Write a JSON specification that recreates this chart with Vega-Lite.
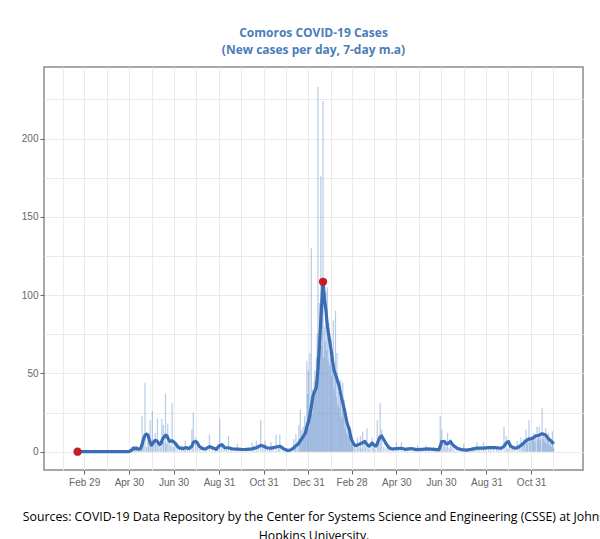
{
  "$schema": "https://vega.github.io/schema/vega-lite/v6.json",
  "width": 539,
  "height": 403,
  "autosize": {"type": "none"},
  "padding": {"left": 44, "top": 67, "right": 17, "bottom": 69},
  "background": "white",
  "title": {
    "text": "Comoros COVID-19 Cases",
    "subtitle": "(New cases per day, 7-day m.a)",
    "anchor": "middle",
    "font": "Open Sans",
    "fontSize": 12,
    "fontWeight": "bold",
    "color": "#4a7eb8",
    "subtitleFont": "Open Sans",
    "subtitleFontSize": 12,
    "subtitleFontWeight": "bold",
    "subtitleColor": "#4a7eb8",
    "subtitlePadding": 5,
    "offset": 10
  },
  "datasets": {
    "bars": [
      {"date":"2020-04-30","cases":1},{"date":"2020-05-02","cases":2},{"date":"2020-05-04","cases":3},{"date":"2020-05-05","cases":2},{"date":"2020-05-07","cases":4},{"date":"2020-05-08","cases":3},{"date":"2020-05-10","cases":2},{"date":"2020-05-11","cases":1},{"date":"2020-05-13","cases":2},{"date":"2020-05-14","cases":3},{"date":"2020-05-16","cases":1},{"date":"2020-05-17","cases":6},{"date":"2020-05-18","cases":23},{"date":"2020-05-20","cases":9},{"date":"2020-05-22","cases":44},{"date":"2020-05-24","cases":3},{"date":"2020-05-26","cases":8},{"date":"2020-05-27","cases":12},{"date":"2020-05-29","cases":20},{"date":"2020-05-30","cases":4},
      {"date":"2020-06-01","cases":26},{"date":"2020-06-03","cases":6},{"date":"2020-06-05","cases":12},{"date":"2020-06-06","cases":5},{"date":"2020-06-08","cases":21},{"date":"2020-06-10","cases":4},{"date":"2020-06-12","cases":3},{"date":"2020-06-14","cases":21},{"date":"2020-06-16","cases":17},{"date":"2020-06-17","cases":6},{"date":"2020-06-19","cases":37},{"date":"2020-06-20","cases":5},{"date":"2020-06-22","cases":18},{"date":"2020-06-24","cases":8},{"date":"2020-06-26","cases":4},{"date":"2020-06-28","cases":31},{"date":"2020-06-30","cases":3},
      {"date":"2020-07-02","cases":5},{"date":"2020-07-05","cases":3},{"date":"2020-07-08","cases":2},{"date":"2020-07-11","cases":4},{"date":"2020-07-14","cases":3},{"date":"2020-07-16","cases":7},{"date":"2020-07-19","cases":2},{"date":"2020-07-22","cases":4},{"date":"2020-07-25","cases":14},{"date":"2020-07-27","cases":25},{"date":"2020-07-30","cases":9},
      {"date":"2020-08-02","cases":3},{"date":"2020-08-05","cases":2},{"date":"2020-08-09","cases":4},{"date":"2020-08-13","cases":2},{"date":"2020-08-18","cases":11},{"date":"2020-08-22","cases":3},{"date":"2020-08-26","cases":2},{"date":"2020-08-29","cases":3},
      {"date":"2020-09-01","cases":21},{"date":"2020-09-04","cases":4},{"date":"2020-09-07","cases":3},{"date":"2020-09-10","cases":2},{"date":"2020-09-13","cases":10},{"date":"2020-09-17","cases":3},{"date":"2020-09-21","cases":2},{"date":"2020-09-25","cases":5},{"date":"2020-09-29","cases":3},
      {"date":"2020-10-03","cases":2},{"date":"2020-10-07","cases":3},{"date":"2020-10-11","cases":2},{"date":"2020-10-15","cases":6},{"date":"2020-10-18","cases":4},{"date":"2020-10-21","cases":7},{"date":"2020-10-24","cases":3},{"date":"2020-10-27","cases":20},{"date":"2020-10-30","cases":4},
      {"date":"2020-11-02","cases":7},{"date":"2020-11-05","cases":3},{"date":"2020-11-08","cases":2},{"date":"2020-11-10","cases":6},{"date":"2020-11-13","cases":3},{"date":"2020-11-17","cases":11},{"date":"2020-11-20","cases":4},{"date":"2020-11-22","cases":11},{"date":"2020-11-26","cases":2},{"date":"2020-11-29","cases":1},
      {"date":"2020-12-02","cases":2},{"date":"2020-12-05","cases":1},{"date":"2020-12-08","cases":3},{"date":"2020-12-11","cases":8},{"date":"2020-12-13","cases":4},{"date":"2020-12-14","cases":11},{"date":"2020-12-16","cases":6},{"date":"2020-12-18","cases":17},{"date":"2020-12-19","cases":5},{"date":"2020-12-20","cases":27},{"date":"2020-12-21","cases":9},{"date":"2020-12-22","cases":14},{"date":"2020-12-23","cases":8},{"date":"2020-12-24","cases":16},{"date":"2020-12-25","cases":10},{"date":"2020-12-26","cases":23},{"date":"2020-12-27","cases":12},{"date":"2020-12-28","cases":19},{"date":"2020-12-29","cases":58},{"date":"2020-12-30","cases":37},{"date":"2020-12-31","cases":52},
      {"date":"2021-01-01","cases":22},{"date":"2021-01-02","cases":63},{"date":"2021-01-03","cases":28},{"date":"2021-01-04","cases":130},{"date":"2021-01-05","cases":24},{"date":"2021-01-06","cases":40},{"date":"2021-01-07","cases":33},{"date":"2021-01-08","cases":45},{"date":"2021-01-09","cases":52},{"date":"2021-01-10","cases":38},{"date":"2021-01-11","cases":60},{"date":"2021-01-12","cases":75},{"date":"2021-01-13","cases":233},{"date":"2021-01-14","cases":70},{"date":"2021-01-15","cases":95},{"date":"2021-01-16","cases":85},{"date":"2021-01-17","cases":176},{"date":"2021-01-18","cases":68},{"date":"2021-01-19","cases":100},{"date":"2021-01-20","cases":224},{"date":"2021-01-21","cases":60},{"date":"2021-01-22","cases":80},{"date":"2021-01-23","cases":70},{"date":"2021-01-24","cases":102},{"date":"2021-01-25","cases":65},{"date":"2021-01-26","cases":105},{"date":"2021-01-27","cases":58},{"date":"2021-01-28","cases":82},{"date":"2021-01-29","cases":55},{"date":"2021-01-30","cases":60},{"date":"2021-01-31","cases":71},
      {"date":"2021-02-01","cases":48},{"date":"2021-02-02","cases":55},{"date":"2021-02-03","cases":84},{"date":"2021-02-04","cases":40},{"date":"2021-02-05","cases":50},{"date":"2021-02-06","cases":90},{"date":"2021-02-07","cases":35},{"date":"2021-02-08","cases":63},{"date":"2021-02-09","cases":30},{"date":"2021-02-10","cases":38},{"date":"2021-02-11","cases":28},{"date":"2021-02-12","cases":35},{"date":"2021-02-13","cases":46},{"date":"2021-02-14","cases":22},{"date":"2021-02-15","cases":30},{"date":"2021-02-16","cases":44},{"date":"2021-02-17","cases":25},{"date":"2021-02-18","cases":33},{"date":"2021-02-19","cases":15},{"date":"2021-02-20","cases":27},{"date":"2021-02-21","cases":12},{"date":"2021-02-22","cases":20},{"date":"2021-02-23","cases":10},{"date":"2021-02-24","cases":14},{"date":"2021-02-25","cases":8},{"date":"2021-02-26","cases":16},{"date":"2021-02-27","cases":5},{"date":"2021-02-28","cases":9},
      {"date":"2021-03-01","cases":10},{"date":"2021-03-02","cases":3},{"date":"2021-03-04","cases":4},{"date":"2021-03-06","cases":2},{"date":"2021-03-08","cases":9},{"date":"2021-03-10","cases":3},{"date":"2021-03-12","cases":10},{"date":"2021-03-13","cases":2},{"date":"2021-03-15","cases":13},{"date":"2021-03-17","cases":5},{"date":"2021-03-19","cases":3},{"date":"2021-03-21","cases":15},{"date":"2021-03-23","cases":2},{"date":"2021-03-25","cases":4},{"date":"2021-03-28","cases":9},{"date":"2021-03-30","cases":3},
      {"date":"2021-04-01","cases":2},{"date":"2021-04-04","cases":20},{"date":"2021-04-06","cases":5},{"date":"2021-04-08","cases":31},{"date":"2021-04-10","cases":14},{"date":"2021-04-13","cases":3},{"date":"2021-04-16","cases":2},{"date":"2021-04-19","cases":3},{"date":"2021-04-22","cases":1},{"date":"2021-04-26","cases":2},{"date":"2021-04-30","cases":6},
      {"date":"2021-05-03","cases":2},{"date":"2021-05-07","cases":6},{"date":"2021-05-11","cases":1},{"date":"2021-05-15","cases":3},{"date":"2021-05-19","cases":2},{"date":"2021-05-23","cases":1},{"date":"2021-05-26","cases":2},{"date":"2021-05-29","cases":4},
      {"date":"2021-06-02","cases":1},{"date":"2021-06-05","cases":2},{"date":"2021-06-09","cases":4},{"date":"2021-06-13","cases":2},{"date":"2021-06-17","cases":1},{"date":"2021-06-20","cases":3},{"date":"2021-06-24","cases":2},{"date":"2021-06-29","cases":23},
      {"date":"2021-07-01","cases":14},{"date":"2021-07-03","cases":5},{"date":"2021-07-05","cases":8},{"date":"2021-07-07","cases":3},{"date":"2021-07-09","cases":12},{"date":"2021-07-11","cases":2},{"date":"2021-07-13","cases":8},{"date":"2021-07-15","cases":3},{"date":"2021-07-18","cases":2},{"date":"2021-07-22","cases":3},{"date":"2021-07-26","cases":1},{"date":"2021-07-31","cases":5},
      {"date":"2021-08-04","cases":1},{"date":"2021-08-08","cases":2},{"date":"2021-08-12","cases":3},{"date":"2021-08-15","cases":2},{"date":"2021-08-18","cases":6},{"date":"2021-08-21","cases":2},{"date":"2021-08-24","cases":3},{"date":"2021-08-27","cases":6},{"date":"2021-08-30","cases":2},
      {"date":"2021-09-03","cases":3},{"date":"2021-09-06","cases":2},{"date":"2021-09-10","cases":4},{"date":"2021-09-14","cases":3},{"date":"2021-09-17","cases":2},{"date":"2021-09-20","cases":3},{"date":"2021-09-24","cases":16},{"date":"2021-09-27","cases":10},{"date":"2021-09-29","cases":2},
      {"date":"2021-10-02","cases":3},{"date":"2021-10-05","cases":2},{"date":"2021-10-08","cases":4},{"date":"2021-10-12","cases":7},{"date":"2021-10-15","cases":4},{"date":"2021-10-17","cases":9},{"date":"2021-10-19","cases":5},{"date":"2021-10-21","cases":8},{"date":"2021-10-22","cases":6},{"date":"2021-10-24","cases":14},{"date":"2021-10-25","cases":5},{"date":"2021-10-26","cases":9},{"date":"2021-10-28","cases":20},{"date":"2021-10-29","cases":6},{"date":"2021-10-30","cases":8},
      {"date":"2021-11-01","cases":10},{"date":"2021-11-02","cases":7},{"date":"2021-11-03","cases":9},{"date":"2021-11-04","cases":12},{"date":"2021-11-05","cases":6},{"date":"2021-11-06","cases":11},{"date":"2021-11-08","cases":16},{"date":"2021-11-09","cases":8},{"date":"2021-11-10","cases":10},{"date":"2021-11-11","cases":16},{"date":"2021-11-12","cases":7},{"date":"2021-11-13","cases":9},{"date":"2021-11-15","cases":28},{"date":"2021-11-16","cases":8},{"date":"2021-11-17","cases":10},{"date":"2021-11-18","cases":6},{"date":"2021-11-19","cases":9},{"date":"2021-11-20","cases":15},{"date":"2021-11-21","cases":5},{"date":"2021-11-22","cases":8},{"date":"2021-11-23","cases":7},{"date":"2021-11-24","cases":12},{"date":"2021-11-25","cases":4},{"date":"2021-11-26","cases":6},{"date":"2021-11-27","cases":5},{"date":"2021-11-28","cases":3},{"date":"2021-11-29","cases":13},{"date":"2021-11-30","cases":4},{"date":"2021-12-01","cases":2}
    ],
    "ma": [
      {"date":"2020-02-20","ma":0},{"date":"2020-03-20","ma":0},{"date":"2020-04-20","ma":0},{"date":"2020-04-29","ma":0},{"date":"2020-05-01","ma":0.3},{"date":"2020-05-04","ma":1},{"date":"2020-05-06","ma":2.3},{"date":"2020-05-08","ma":1.8},{"date":"2020-05-10","ma":2.4},{"date":"2020-05-13","ma":1.6},{"date":"2020-05-16","ma":2},{"date":"2020-05-18","ma":4.5},{"date":"2020-05-20","ma":8},{"date":"2020-05-22","ma":10.5},{"date":"2020-05-24","ma":11.2},{"date":"2020-05-26","ma":10.5},{"date":"2020-05-28","ma":7.5},{"date":"2020-05-30","ma":5},{"date":"2020-05-31","ma":4.2},
      {"date":"2020-06-02","ma":5.5},{"date":"2020-06-04","ma":7},{"date":"2020-06-06","ma":7.2},{"date":"2020-06-08","ma":6.5},{"date":"2020-06-11","ma":4.5},{"date":"2020-06-13","ma":5.5},{"date":"2020-06-15","ma":8},{"date":"2020-06-17","ma":9.5},{"date":"2020-06-19","ma":10.5},{"date":"2020-06-21","ma":10},{"date":"2020-06-23","ma":8},{"date":"2020-06-25","ma":6.5},{"date":"2020-06-28","ma":7},
      {"date":"2020-07-01","ma":6},{"date":"2020-07-03","ma":5},{"date":"2020-07-06","ma":3},{"date":"2020-07-09","ma":2.3},{"date":"2020-07-13","ma":2},{"date":"2020-07-17","ma":2.6},{"date":"2020-07-21","ma":2},{"date":"2020-07-25","ma":3.5},{"date":"2020-07-27","ma":6},{"date":"2020-07-30","ma":6.5},{"date":"2020-08-01","ma":6},{"date":"2020-08-04","ma":3.5},{"date":"2020-08-08","ma":2},{"date":"2020-08-13","ma":1.8},{"date":"2020-08-18","ma":3.3},{"date":"2020-08-22","ma":2.5},{"date":"2020-08-27","ma":1.5},
      {"date":"2020-09-01","ma":4},{"date":"2020-09-04","ma":4.5},{"date":"2020-09-08","ma":2.5},{"date":"2020-09-13","ma":2.5},{"date":"2020-09-18","ma":1.8},{"date":"2020-09-25","ma":1.6},{"date":"2020-10-01","ma":1.4},{"date":"2020-10-08","ma":1.5},{"date":"2020-10-15","ma":1.8},{"date":"2020-10-21","ma":2.5},{"date":"2020-10-27","ma":4},{"date":"2020-10-31","ma":3.5},{"date":"2020-11-04","ma":2.5},{"date":"2020-11-10","ma":2.3},{"date":"2020-11-17","ma":3},{"date":"2020-11-22","ma":3.5},{"date":"2020-11-27","ma":2},
      {"date":"2020-12-02","ma":0.8},{"date":"2020-12-06","ma":1},{"date":"2020-12-10","ma":2},{"date":"2020-12-13","ma":3.4},{"date":"2020-12-16","ma":4.5},{"date":"2020-12-18","ma":5.5},{"date":"2020-12-20","ma":7},{"date":"2020-12-23","ma":9},{"date":"2020-12-25","ma":10.5},{"date":"2020-12-27","ma":12},{"date":"2020-12-29","ma":16},{"date":"2020-12-31","ma":19},
      {"date":"2021-01-02","ma":23},{"date":"2021-01-04","ma":29},{"date":"2021-01-06","ma":35},{"date":"2021-01-08","ma":38},{"date":"2021-01-10","ma":40},{"date":"2021-01-11","ma":41.5},{"date":"2021-01-13","ma":52},{"date":"2021-01-15","ma":67},{"date":"2021-01-17","ma":84},{"date":"2021-01-19","ma":101},{"date":"2021-01-20","ma":108.5},{"date":"2021-01-21","ma":104},{"date":"2021-01-22","ma":97},{"date":"2021-01-24","ma":90},{"date":"2021-01-26","ma":80},{"date":"2021-01-29","ma":71},{"date":"2021-01-31","ma":65},
      {"date":"2021-02-02","ma":58},{"date":"2021-02-04","ma":52},{"date":"2021-02-07","ma":48},{"date":"2021-02-09","ma":45},{"date":"2021-02-11","ma":42},{"date":"2021-02-13","ma":37},{"date":"2021-02-16","ma":31},{"date":"2021-02-18","ma":27},{"date":"2021-02-20","ma":22.5},{"date":"2021-02-22","ma":18},{"date":"2021-02-25","ma":14},{"date":"2021-02-27","ma":9},
      {"date":"2021-03-01","ma":6.5},{"date":"2021-03-04","ma":4.2},{"date":"2021-03-06","ma":3.8},{"date":"2021-03-09","ma":4.5},{"date":"2021-03-12","ma":5},{"date":"2021-03-15","ma":5.8},{"date":"2021-03-18","ma":6.5},{"date":"2021-03-21","ma":4.5},{"date":"2021-03-24","ma":3.5},{"date":"2021-03-28","ma":5.5},{"date":"2021-03-31","ma":4},
      {"date":"2021-04-02","ma":3.5},{"date":"2021-04-04","ma":5},{"date":"2021-04-06","ma":7.6},{"date":"2021-04-08","ma":9.5},{"date":"2021-04-10","ma":10},{"date":"2021-04-13","ma":7.6},{"date":"2021-04-15","ma":6},{"date":"2021-04-17","ma":4.5},{"date":"2021-04-20","ma":2.5},{"date":"2021-04-24","ma":1.7},{"date":"2021-04-30","ma":2},
      {"date":"2021-05-07","ma":2.2},{"date":"2021-05-12","ma":1.5},{"date":"2021-05-20","ma":2},{"date":"2021-05-28","ma":1.3},{"date":"2021-06-04","ma":1.5},{"date":"2021-06-12","ma":1.8},{"date":"2021-06-20","ma":1.5},{"date":"2021-06-27","ma":1.2},{"date":"2021-06-29","ma":3.5},
      {"date":"2021-07-01","ma":6.5},{"date":"2021-07-05","ma":6.5},{"date":"2021-07-07","ma":5},{"date":"2021-07-09","ma":5},{"date":"2021-07-13","ma":6.5},{"date":"2021-07-15","ma":5},{"date":"2021-07-18","ma":3.5},{"date":"2021-07-23","ma":2},{"date":"2021-07-28","ma":1.3},
      {"date":"2021-08-04","ma":1},{"date":"2021-08-10","ma":1.5},{"date":"2021-08-18","ma":2.3},{"date":"2021-08-27","ma":2.3},{"date":"2021-09-03","ma":2.6},{"date":"2021-09-12","ma":2.6},{"date":"2021-09-20","ma":2.2},{"date":"2021-09-24","ma":3.5},{"date":"2021-09-27","ma":5.5},{"date":"2021-09-30","ma":6.5},
      {"date":"2021-10-03","ma":3.5},{"date":"2021-10-07","ma":2.5},{"date":"2021-10-10","ma":2.2},{"date":"2021-10-14","ma":3},{"date":"2021-10-17","ma":4},{"date":"2021-10-21","ma":5.5},{"date":"2021-10-24","ma":7},{"date":"2021-10-28","ma":8},
      {"date":"2021-11-02","ma":8.5},{"date":"2021-11-06","ma":10},{"date":"2021-11-11","ma":10.5},{"date":"2021-11-15","ma":11.5},{"date":"2021-11-18","ma":11},{"date":"2021-11-20","ma":10.5},{"date":"2021-11-24","ma":8},{"date":"2021-11-27","ma":7},{"date":"2021-11-29","ma":6},{"date":"2021-12-01","ma":5}
    ],
    "pts": [
      {"date":"2020-02-20","ma":0},
      {"date":"2021-01-20","ma":108.5}
    ]
  },
  "encoding": {
    "x": {
      "field": "date",
      "type": "temporal",
      "scale": {
        "type": "utc",
        "domain": [
          {"year": 2020, "month": 1, "date": 12, "utc": true},
          {"year": 2022, "month": 1, "date": 3, "utc": true}
        ]
      },
      "axis": {
        "title": ["Sources: COVID-19 Data Repository by the Center for Systems Science and Engineering (CSSE) at Johns", "Hopkins University."],
        "titleFont": "Open Sans",
        "titleFontSize": 12.3,
        "titleFontWeight": "normal",
        "titleColor": "#000000",
        "titlePadding": 23,
        "titleLineHeight": 19,
        "values": [
          {"year":2020,"month":1,"date":31,"utc":true},
          {"year":2020,"month":2,"date":29,"utc":true},
          {"year":2020,"month":3,"date":31,"utc":true},
          {"year":2020,"month":4,"date":30,"utc":true},
          {"year":2020,"month":5,"date":31,"utc":true},
          {"year":2020,"month":6,"date":30,"utc":true},
          {"year":2020,"month":7,"date":31,"utc":true},
          {"year":2020,"month":8,"date":31,"utc":true},
          {"year":2020,"month":9,"date":30,"utc":true},
          {"year":2020,"month":10,"date":31,"utc":true},
          {"year":2020,"month":11,"date":30,"utc":true},
          {"year":2020,"month":12,"date":31,"utc":true},
          {"year":2021,"month":1,"date":31,"utc":true},
          {"year":2021,"month":2,"date":28,"utc":true},
          {"year":2021,"month":3,"date":31,"utc":true},
          {"year":2021,"month":4,"date":30,"utc":true},
          {"year":2021,"month":5,"date":31,"utc":true},
          {"year":2021,"month":6,"date":30,"utc":true},
          {"year":2021,"month":7,"date":31,"utc":true},
          {"year":2021,"month":8,"date":31,"utc":true},
          {"year":2021,"month":9,"date":30,"utc":true},
          {"year":2021,"month":10,"date":31,"utc":true},
          {"year":2021,"month":11,"date":30,"utc":true}
        ],
        "labelExpr": "utcmonth(datum.value) % 2 === 1 ? utcFormat(datum.value, '%b %d') : ''",
        "tickOpacity": {"condition": {"test": "utcmonth(datum.value) % 2 === 1", "value": 1}, "value": 0},
        "labelPadding": 3,
        "labelFlush": false,
        "labelOverlap": false
      }
    }
  },
  "layer": [
    {
      "data": {"name": "bars"},
      "mark": {"type": "bar", "width": 1.2, "color": "#6f98cf", "opacity": 0.5},
      "encoding": {
        "y": {
          "field": "cases",
          "type": "quantitative",
          "scale": {"domain": [-11.7, 245.7], "nice": false, "zero": false},
          "axis": {
            "title": null,
            "values": [0, 25, 50, 75, 100, 125, 150, 175, 200, 225],
            "labelExpr": "datum.value % 50 === 0 ? datum.label : ''",
            "tickOpacity": {"condition": {"test": "datum.value % 50 === 0", "value": 1}, "value": 0},
            "labelPadding": 2
          }
        }
      }
    },
    {
      "data": {"name": "ma"},
      "mark": {"type": "line", "color": "#3b6db4", "strokeWidth": 3.2, "strokeJoin": "round"},
      "encoding": {"y": {"field": "ma", "type": "quantitative"}}
    },
    {
      "data": {"name": "pts"},
      "mark": {"type": "circle", "color": "#c41e24", "size": 70, "opacity": 1},
      "encoding": {"y": {"field": "ma", "type": "quantitative"}}
    }
  ],
  "config": {
    "view": {"stroke": "#8c8c8c", "strokeWidth": 1.5},
    "axis": {
      "domain": false,
      "grid": true,
      "gridColor": "#ebebeb",
      "gridWidth": 1,
      "labelColor": "#666666",
      "labelFont": "Liberation Sans",
      "labelFontSize": 10,
      "tickColor": "#666666",
      "tickSize": 4
    }
  }
}
